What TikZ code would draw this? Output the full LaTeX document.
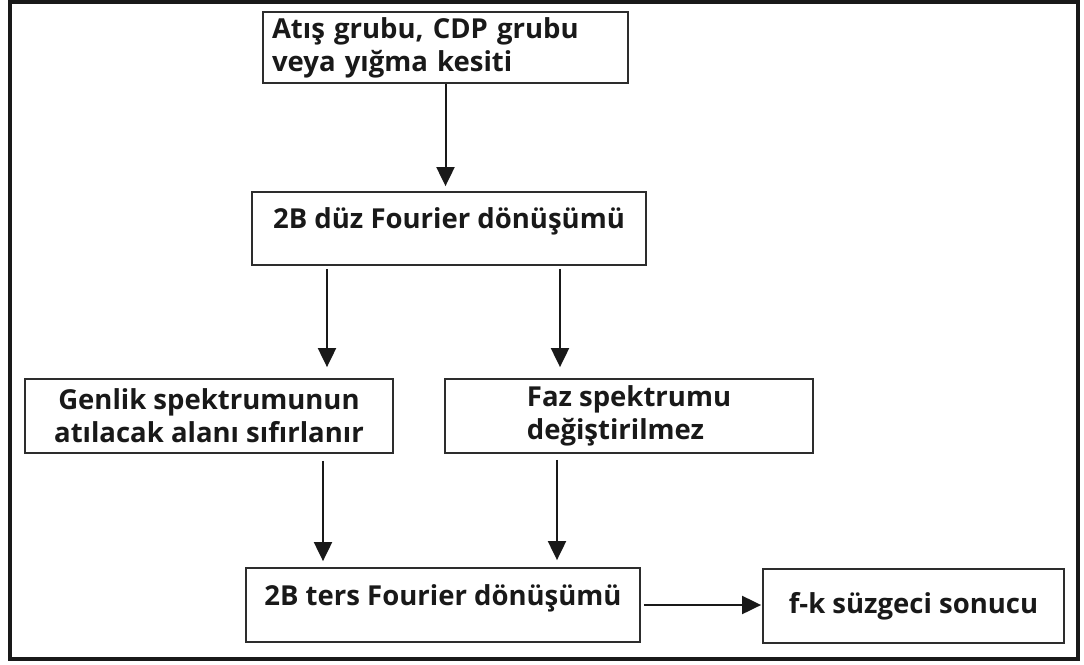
\documentclass[tikz,border=0pt]{standalone}
\usepackage{fontspec}
\setmainfont{Open Sans}
\usetikzlibrary{arrows.meta}
\definecolor{kutucol}{RGB}{45,45,45}
\definecolor{yazicol}{RGB}{25,25,25}
\tikzset{
  kutu/.style={draw=kutucol, line width=1.8pt, inner sep=0pt, text=yazicol,
               font=\fontsize{27.5}{33}\selectfont\bfseries},
  ok/.style={-{Triangle[length=19pt,width=18pt]}, line width=2pt, draw=yazicol}
}

\begin{document}
\begin{tikzpicture}[x=1pt,y=-1pt]
\useasboundingbox (0,0) rectangle (1084,664);

% ── Outer frame ───────────────────────────────────────────────────────────────
\draw[line width=4pt, yazicol] (10,1.5) rectangle (1078,659);

% ── Boxes ─────────────────────────────────────────────────────────────────────
\node[kutu, text width=347pt, inner xsep=9pt, minimum height=71pt, align=left]
      (kaynak) at (445.5,47.5) {Atış grubu, CDP grubu\\veya yığma kesiti};
\node[kutu, minimum width=394pt, text height=36pt, text depth=37pt]
      (fft) at (449,228.5) {2B düz Fourier dönüşümü};
\node[kutu, minimum width=368pt, minimum height=74pt, align=center]
      (genlik) at (209,416) {Genlik spektrumunun\\atılacak alanı sıfırlanır};
\node[kutu, minimum width=368pt, minimum height=74pt, align=left]
      (faz) at (629,416) {Faz spektrumu\\değiştirilmez};
\node[kutu, minimum width=394pt, text height=37pt, text depth=37pt]
      (ifft) at (443,605) {2B ters Fourier dönüşümü};
\node[kutu, minimum width=301pt, minimum height=74pt]
      (sonuc) at (913.5,606) {f-k süzgeci sonucu};

% ── Arrows ────────────────────────────────────────────────────────────────────
\draw[ok, shorten >=5pt] (kaynak.south) -- (kaynak.south |- fft.north);
\draw[ok, shorten <=3pt, shorten >=11pt]
     ([xshift=-122pt]fft.south) -- ([xshift=-122pt]fft.south |- genlik.north);
\draw[ok, shorten <=3pt, shorten >=11pt]
     ([xshift=111pt]fft.south) -- ([xshift=111pt]fft.south |- faz.north);
\draw[ok, shorten <=7pt, shorten >=6pt]
     ([xshift=114pt]genlik.south) -- ([xshift=114pt]genlik.south |- ifft.north);
\draw[ok, shorten <=6pt, shorten >=7pt]
     ([xshift=-72pt]faz.south) -- ([xshift=-72pt]faz.south |- ifft.north);
\draw[ok, shorten <=3pt, shorten >=1pt] (ifft.east) -- (ifft.east -| sonuc.west);

\end{tikzpicture}
\end{document}
